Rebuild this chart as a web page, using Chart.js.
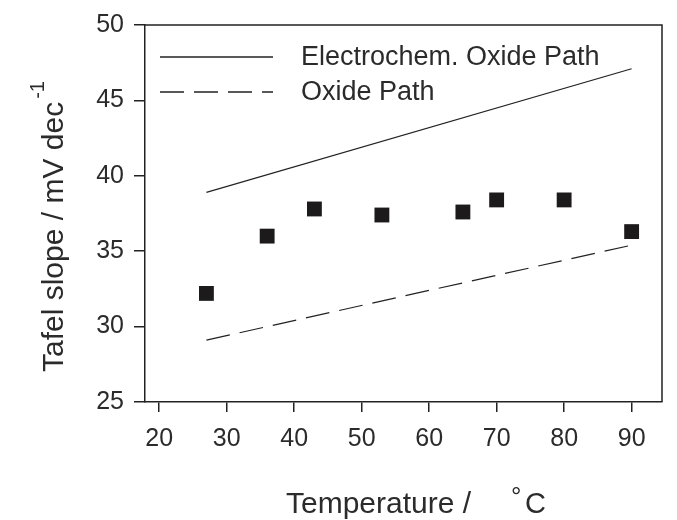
<!DOCTYPE html>
<html>
<head>
<meta charset="utf-8">
<script src="https://cdn.jsdelivr.net/npm/chart.js@4.4.0/dist/chart.umd.min.js"></script>
<style>
  html, body { margin: 0; padding: 0; background: #fff; }
  #wrap { width: 677px; height: 520px; }
</style>
</head>
<body>
<div id="wrap"><canvas id="js-chart-tafel" width="677" height="520"></canvas></div>
<script>
// Measured Tafel slopes
const temps = [27, 36, 43, 53, 65, 70, 80, 90];
const slopes = [32.2, 36.0, 37.8, 37.4, 37.6, 38.4, 38.4, 36.3];

// Model lines (end points)
const modelTemps = [27, 90];
const electroOxide = [38.9, 47.1];
const oxidePath = [29.1, 35.4];

const xTicks = [20, 30, 40, 50, 60, 70, 80, 90];
const yTicks = [25, 30, 35, 40, 45, 50];

const ink = '#222';
const textInk = '#2b2b2b';
const font = '"Liberation Sans", Arial, sans-serif';

// Frame on top/right, axis titles and the in-plot legend
const decorations = {
  id: 'decorations',
  afterDraw(chart) {
    const ctx = chart.ctx;
    const a = chart.chartArea;
    ctx.save();
    ctx.strokeStyle = ink;
    ctx.lineWidth = 1.5;
    ctx.beginPath();
    ctx.moveTo(a.left, a.top);
    ctx.lineTo(a.right, a.top);
    ctx.lineTo(a.right, a.bottom);
    ctx.stroke();

    // legend
    const legend = [0, 1].map(i => chart.data.datasets[i]);
    legend.forEach((ds, i) => {
      const y = 57 + i * 35;
      ctx.strokeStyle = ink;
      ctx.lineWidth = 1.3;
      ctx.setLineDash(ds.borderDash || []);
      ctx.beginPath();
      ctx.moveTo(160, y);
      ctx.lineTo(273, y);
      ctx.stroke();
      ctx.setLineDash([]);
      ctx.fillStyle = textInk;
      ctx.font = '27px ' + font;
      ctx.textAlign = 'left';
      ctx.textBaseline = 'middle';
      ctx.fillText(ds.label, 301, y + 1);
    });

    // x title
    ctx.fillStyle = textInk;
    ctx.textBaseline = 'alphabetic';
    ctx.font = '30px ' + font;
    ctx.textAlign = 'left';
    ctx.fillText('Temperature /', 286, 513);
    ctx.font = '29px ' + font;
    ctx.fillText('C', 525, 513);
    ctx.font = '26px ' + font;
    ctx.fillText('°', 511, 505);

    // y title with superscript, reading bottom to top
    ctx.translate(53, 372);
    ctx.rotate(-Math.PI / 2);
    ctx.font = '30px ' + font;
    const main = 'Tafel slope / mV dec';
    const w = ctx.measureText(main).width;
    ctx.textAlign = 'left';
    ctx.fillText(main, 0, 10);
    ctx.font = '20px ' + font;
    ctx.fillText('-1', w + 3, -9);
    ctx.restore();
  }
};

new Chart(document.getElementById('js-chart-tafel'), {
  type: 'scatter',
  data: {
    datasets: [
      {
        label: 'Electrochem. Oxide Path',
        type: 'line',
        data: modelTemps.map((t, i) => ({ x: t, y: electroOxide[i] })),
        borderColor: ink,
        borderWidth: 1.2,
        pointRadius: 0,
        fill: false
      },
      {
        label: 'Oxide Path',
        type: 'line',
        data: modelTemps.map((t, i) => ({ x: t, y: oxidePath[i] })),
        borderColor: ink,
        borderWidth: 1.2,
        borderDash: [24, 10],
        pointRadius: 0,
        fill: false
      },
      {
        label: 'Measured',
        data: temps.map((t, i) => ({ x: t, y: slopes[i] })),
        pointStyle: 'rect',
        pointRadius: 10.5,
        backgroundColor: '#1c1a1b',
        borderColor: '#1c1a1b',
        borderWidth: 0
      }
    ]
  },
  options: {
    responsive: false,
    animation: false,
    layout: { padding: { top: 18, right: 15, left: 0, bottom: 0 } },
    plugins: { legend: { display: false }, tooltip: { enabled: false } },
    scales: {
      x: {
        type: 'linear',
        min: 17.9,
        max: 94.5,
        afterBuildTicks: s => { s.ticks = xTicks.map(v => ({ value: v })); },
        afterFit: s => { s.height = 118; },
        border: { display: true, color: ink, width: 1.5 },
        grid: { drawOnChartArea: false, drawTicks: true, tickLength: 10, color: ink, lineWidth: 1.5 },
        ticks: { color: textInk, font: { family: font, size: 25 }, padding: 12 }
      },
      y: {
        min: 25,
        max: 50,
        afterBuildTicks: s => { s.ticks = yTicks.map(v => ({ value: v })); },
        afterFit: s => { s.width = 145; },
        border: { display: true, color: ink, width: 1.5 },
        grid: { drawOnChartArea: false, drawTicks: true, tickLength: 11, color: ink, lineWidth: 1.5 },
        ticks: { color: textInk, font: { family: font, size: 25 }, padding: 10 }
      }
    }
  },
  plugins: [decorations]
});
</script>
</body>
</html>
